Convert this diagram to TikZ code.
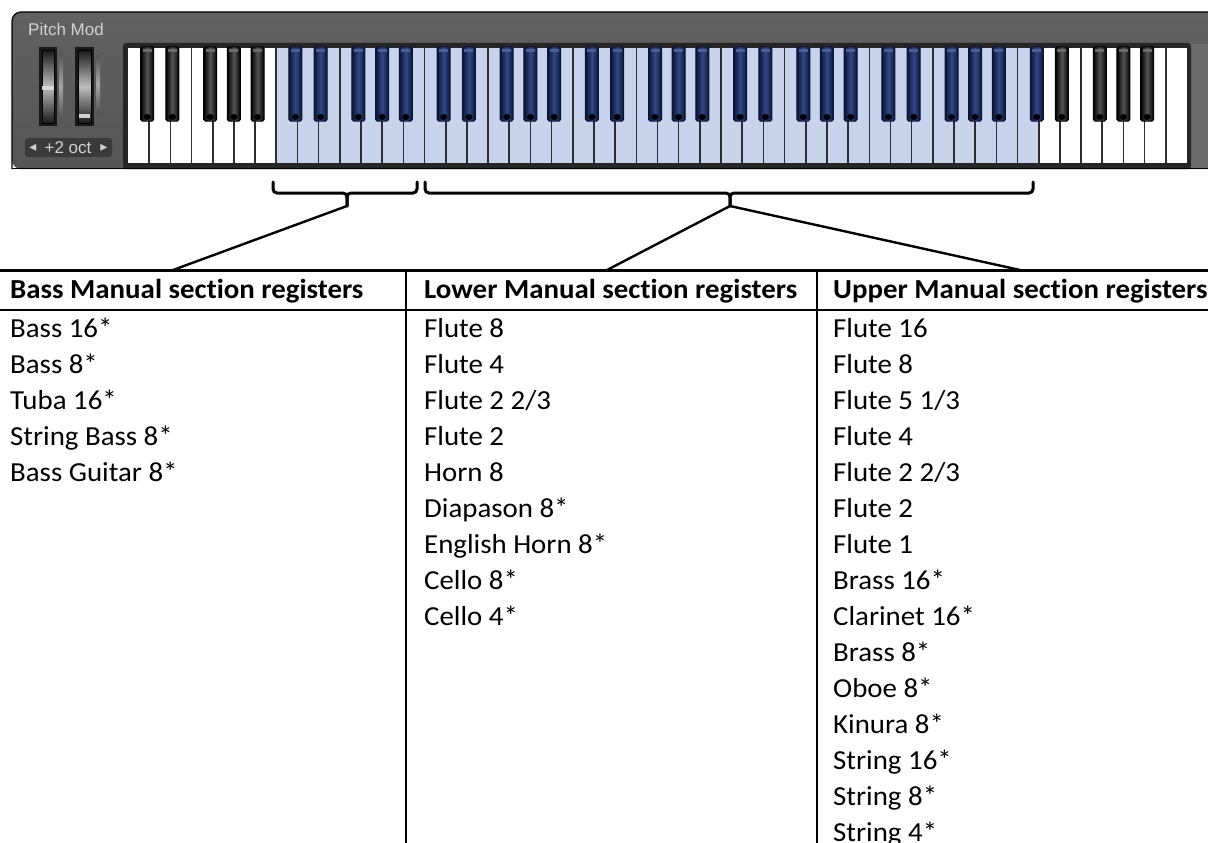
\documentclass[tikz,border=0pt]{standalone}
\usepackage{fontspec}
\setmainfont[FakeStretch=1.05, Ligatures=NoCommon]{Carlito}
\newfontfamily\uifont{Liberation Sans}
\newfontfamily\symfont{DejaVu Sans}
\definecolor{paneltop}{HTML}{616161}
\definecolor{panelbot}{HTML}{555555}
\definecolor{panelside}{HTML}{6B6B6B}
\definecolor{framegray}{HTML}{262626}
\definecolor{selwhite}{HTML}{C8D4EB}
\definecolor{keyline}{HTML}{2E2E2E}
\definecolor{bkmid}{HTML}{555555}
\definecolor{bkcap}{HTML}{6A6A6A}
\definecolor{bluedark}{HTML}{0B1433}
\definecolor{bluemid}{HTML}{2F4A88}
\definecolor{bluecap}{HTML}{4A5F92}
\definecolor{wheeldark}{HTML}{1A1A1A}
\definecolor{wheellight}{HTML}{BDBDBD}
\definecolor{btnfill}{HTML}{3A3A3A}
\definecolor{uitext}{HTML}{D2D2D2}
\begin{document}
\begin{tikzpicture}[x=1pt,y=-1pt,
  keysep/.style={draw=keyline, line width=1.6pt},
  blackkey/.style={draw=black, line width=1pt, rounded corners=1.5pt, left color=black, right color=black, middle color=bkmid},
  bluekey/.style={draw=bluedark, line width=1pt, rounded corners=1.5pt, left color=bluedark, right color=bluedark, middle color=bluemid},
  bracestyle/.style={draw=black, line width=3pt, rounded corners=4pt, line cap=round},
  conn/.style={draw=black, line width=2.4pt},
  hdr/.style={anchor=base west, inner sep=0pt, font=\fontsize{27.5}{32}\selectfont\bfseries},
  cell/.style={anchor=base west, inner sep=0pt, font=\fontsize{27.5}{32}\selectfont},
  uilabel/.style={inner sep=0pt, text=uitext, font=\uifont\fontsize{17}{17}\selectfont},
  uitri/.style={inner sep=0pt, text=uitext, font=\symfont\fontsize{14}{14}\selectfont},
]
\useasboundingbox (0,0) rectangle (1208,843);
\clip (0,0) rectangle (1208,843);
\fill[white] (0,0) rectangle (1208,843);

% ---- instrument panel ----
\shade[top color=paneltop, bottom color=panelbot, rounded corners=9pt]
  (12,169) -- (12,12) -- (1230,12) -- (1230,169) -- cycle;
\draw[black, line width=1.2pt, rounded corners=9pt] (12,169) -- (12,12) -- (1230,12);
\fill[panelside] (1191,44) rectangle (1230,168);
\fill[framegray, rounded corners=3pt] (123,43) rectangle (1191,169);
\draw[black, line width=1.5pt] (12,168.5) -- (1230,168.5);

% white keys
\foreach \i in {0,...,49}{
  \pgfmathsetmacro\xa{128+\i*21.18}
  \pgfmathsetmacro\xb{\xa+21.18}
  \pgfmathtruncatemacro\sel{and(\i>6,\i<43)}
  \ifnum\sel=1 \fill[selwhite] (\xa,48) rectangle (\xb,163);
  \else \fill[white] (\xa,48) rectangle (\xb,163); \fi
}
\foreach \i in {1,...,49}{
  \draw[keysep] ({128+\i*21.18},48) -- ({128+\i*21.18},163);
}
% black keys
\foreach \k in {0,...,6}{
  \foreach \n/\d in {1/-2,2/2,4/-2.5,5/0,6/2.5}{
    \pgfmathsetmacro\cx{128+(7*\k+\n)*21.18+(\d)}
    \pgfmathtruncatemacro\isblue{or(and(\k>0,\k<6),and(\k==6,\n==1))}
    \ifnum\isblue=1 \def\bks{bluekey}\def\bkc{bluecap}\else\def\bks{blackkey}\def\bkc{bkcap}\fi
    \path[\bks] (\cx-6.5,47) rectangle (\cx+6.5,121);
    \fill[\bkc] (\cx-4.5,49) rectangle (\cx+4.5,52);
    \fill[black] (\cx,117) ellipse (3.5pt and 3pt);
  }
}

% wheels
\fill[black!70!panelbot] (39,47) rectangle (57,126);
\fill[black!70!panelbot] (75,47) rectangle (94,126);
\shade[top color=wheeldark, bottom color=wheeldark, middle color=wheellight, draw=black, line width=0.8pt] (42,50) rectangle (54,123);
\fill[wheellight!60!white] (42,86) rectangle (54,90);
\shade[top color=panelbot, bottom color=panelbot, middle color=gray!70] (59,54) rectangle (63,118);
\shade[top color=wheeldark, bottom color=wheeldark, middle color=wheellight, draw=black, line width=0.8pt] (78,50) rectangle (91,123);
\fill[wheellight!70!white] (79,114) rectangle (90,118);
\shade[top color=panelbot, bottom color=panelbot, middle color=gray!70] (96,56) rectangle (100,112);

\node[uilabel, anchor=base west] (pitchmod) at (28,36) {Pitch Mod};
\fill[btnfill, rounded corners=3pt] (25,138) rectangle (112,157);
\node[uitri] (btnL) at (33,147.5) {◂};
\node[uilabel, anchor=base] (btnT) at (68,153.5) {+2 oct};
\node[uitri] (btnR) at (104,147.5) {▸};

% ---- brackets ----
\coordinate (b1l) at (273,182);
\coordinate (b1r) at (417,182);
\coordinate (b1tip) at (347,206);
\coordinate (b2l) at (425,182);
\coordinate (b2r) at (1033,182);
\coordinate (b2tip) at (730,206);
\draw[bracestyle] (b1l) -- (273,193) -- (347,193) -- (b1tip);
\draw[bracestyle] (b1r) -- (417,193) -- (347,193) -- (b1tip);
\draw[bracestyle] (b2l) -- (425,193) -- (730,193) -- (b2tip);
\draw[bracestyle] (b2r) -- (1033,193) -- (730,193) -- (b2tip);

% ---- table ----
\coordinate (tA) at (173,270);
\coordinate (tB) at (607,270);
\coordinate (tC) at (1020,270);
\draw[conn] (b1tip) -- (tA);
\draw[conn] (b2tip) -- (tB);
\draw[conn] (b2tip) -- (tC);

\draw[black, line width=3.5pt] (0,270.5) -- (1208,270.5);
\draw[black, line width=1.8pt] (0,310) -- (1208,310);
\draw[black, line width=2pt] (406,270) -- (406,843);
\draw[black, line width=2pt] (817,270) -- (817,843);

\node[hdr] (hA) at (10,298.5) {Bass Manual section registers};
\node[hdr] (hB) at (424,298.5) {Lower Manual section registers};
\node[hdr] (hC) at (833,298.5) {Upper Manual section registers};

\foreach \t [count=\r from 0] in {Bass 16*,Bass 8*,Tuba 16*,String Bass 8*,Bass Guitar 8*}{
  \node[cell] (a\r) at (10,337.3+36*\r) {\t};
}
\foreach \t [count=\r from 0] in {Flute 8,Flute 4,Flute 2 2/3,Flute 2,Horn 8,Diapason 8*,English Horn 8*,Cello 8*,Cello 4*}{
  \node[cell] (b\r) at (424,337.3+36*\r) {\t};
}
\foreach \t [count=\r from 0] in {Flute 16,Flute 8,Flute 5 1/3,Flute 4,Flute 2 2/3,Flute 2,Flute 1,Brass 16*,Clarinet 16*,Brass 8*,Oboe 8*,Kinura 8*,String 16*,String 8*,String 4*}{
  \node[cell] (c\r) at (833,337.3+36*\r) {\t};
}
\end{tikzpicture}
\end{document}
